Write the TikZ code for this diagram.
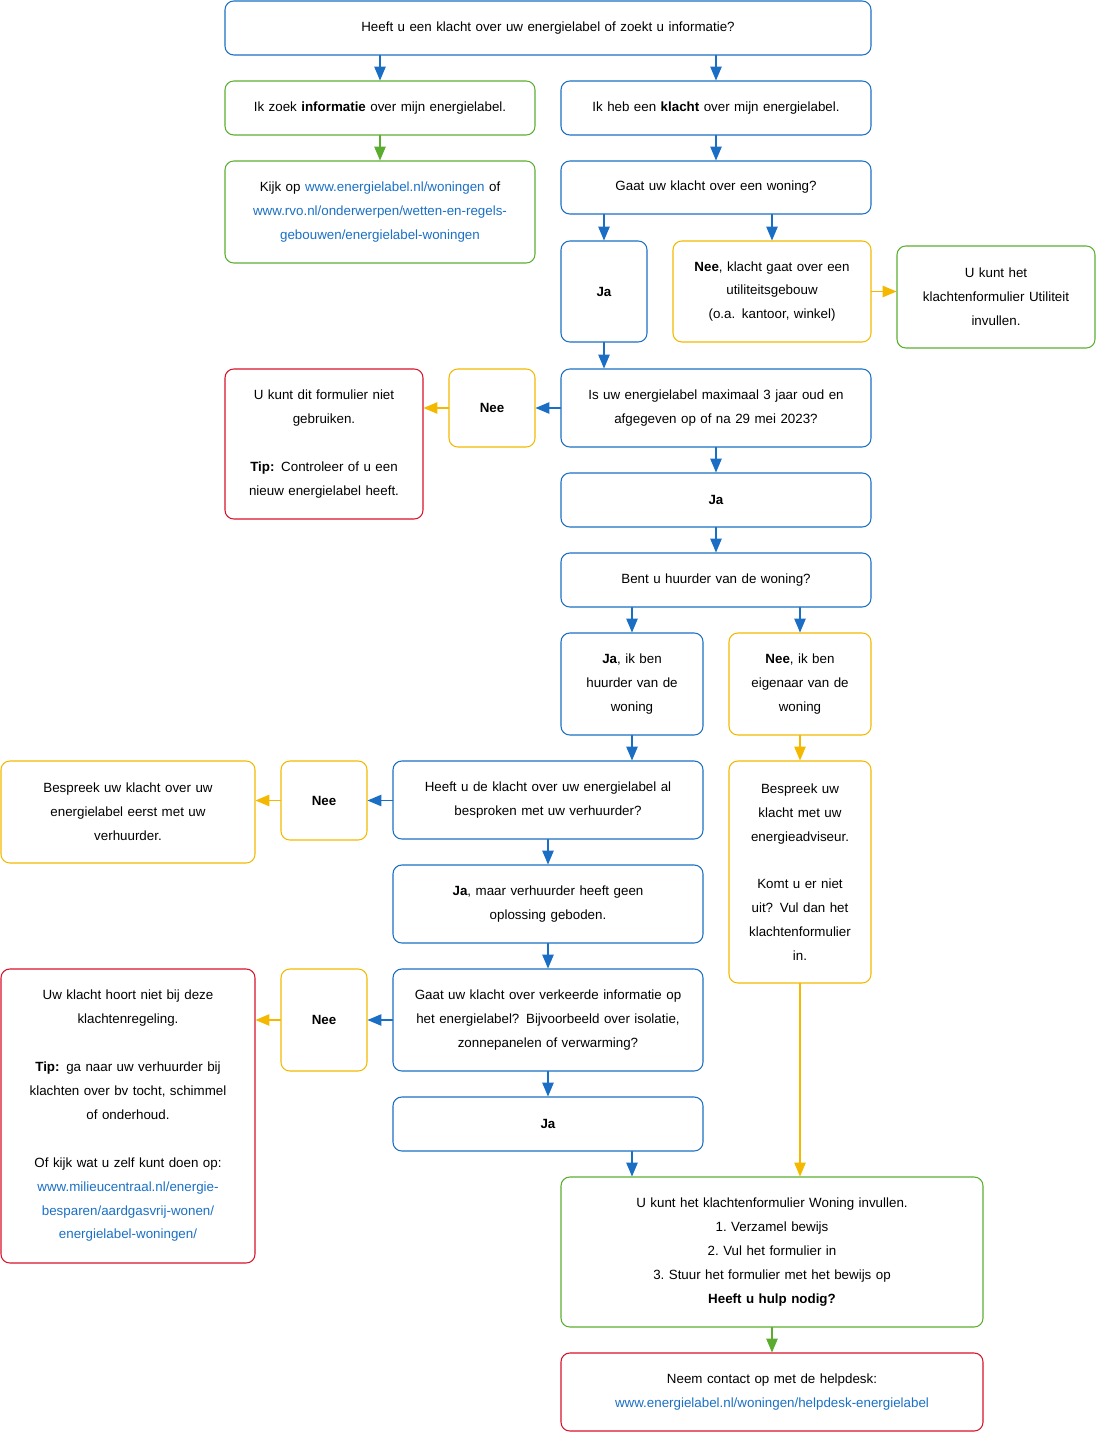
\documentclass[tikz,border=0pt]{standalone}
\usepackage{fontspec}
\setmainfont{Liberation Sans}
\usetikzlibrary{arrows}
\definecolor{cblue}{HTML}{1A6FC4}
\definecolor{cgreen}{HTML}{5AAD2F}
\definecolor{cyellow}{HTML}{F5B800}
\definecolor{cred}{HTML}{D9112A}
\newcommand{\lnk}[1]{\textcolor{cblue}{#1}}
% box from pixel corners (x1,y1) to (x2,y2)
\newcommand{\bx}[7]{\node[box, draw=#2, minimum width={(#5-#3)*0.02cm}, minimum height={(#6-#4)*0.02cm}, text width={(#5-#3-16)*0.02cm}] (#1) at ({(#3+#5)/2},{(#4+#6)/2}) {#7};}
\begin{document}
\begin{tikzpicture}[line cap=round,line join=round,>=triangle 45,x=0.02cm,y=-0.02cm,
  box/.style={rounded corners=5pt, line width=0.6pt, align=center, inner sep=0pt,
    font=\fontsize{7.6}{13.6}\selectfont},
  arr/.style={->, line width=0.8pt}]
\useasboundingbox (0,0) rectangle (1096,1432);
\bx{q1}{cblue}{225}{1}{871}{55}{Heeft u een klacht over uw energielabel of zoekt u informatie?}
\bx{info}{cgreen}{225}{81}{535}{135}{Ik zoek \textbf{informatie} over mijn energielabel.}
\bx{klacht}{cblue}{561}{81}{871}{135}{Ik heb een \textbf{klacht} over mijn energielabel.}
\bx{kijk}{cgreen}{225}{161}{535}{263}{Kijk op \lnk{www.energielabel.nl/woningen} of\\ \lnk{www.rvo.nl/onderwerpen/wetten-en-regels-}\\ \lnk{gebouwen/energielabel-woningen}}
\bx{woning}{cblue}{561}{161}{871}{214}{Gaat uw klacht over een woning?}
\bx{ja1}{cblue}{561}{241}{647}{342}{\textbf{Ja}}
\bx{nee1}{cyellow}{673}{241}{871}{342}{\textbf{Nee}, klacht gaat over een\\ utiliteitsgebouw\\ (o.a. kantoor, winkel)}
\bx{util}{cgreen}{897}{246}{1095}{348}{U kunt het\\ klachtenformulier Utiliteit\\ invullen.}
\bx{max3}{cblue}{561}{369}{871}{447}{Is uw energielabel maximaal 3 jaar oud en\\ afgegeven op of na 29 mei 2023?}
\bx{nee2}{cyellow}{449}{369}{535}{447}{\textbf{Nee}}
\bx{niet}{cred}{225}{369}{423}{519}{U kunt dit formulier niet\\ gebruiken.\\[13.6pt] \textbf{Tip:} Controleer of u een\\ nieuw energielabel heeft.}
\bx{ja2}{cblue}{561}{473}{871}{527}{\textbf{Ja}}
\bx{huurder}{cblue}{561}{553}{871}{607}{Bent u huurder van de woning?}
\bx{jahuur}{cblue}{561}{633}{703}{735}{\textbf{Ja}, ik ben\\ huurder van de\\ woning}
\bx{neeeig}{cyellow}{729}{633}{871}{735}{\textbf{Nee}, ik ben\\ eigenaar van de\\ woning}
\bx{besproken}{cblue}{393}{761}{703}{839}{Heeft u de klacht over uw energielabel al\\ besproken met uw verhuurder?}
\bx{nee3}{cyellow}{281}{761}{367}{840}{\textbf{Nee}}
\bx{bespreek}{cyellow}{1}{761}{255}{863}{Bespreek uw klacht over uw\\ energielabel eerst met uw\\ verhuurder.}
\bx{adviseur}{cyellow}{729}{761}{871}{983}{Bespreek uw\\ klacht met uw\\ energieadviseur.\\[13.6pt] Komt u er niet\\ uit? Vul dan het\\ klachtenformulier\\ in.}
\bx{jamaar}{cblue}{393}{865}{703}{943}{\textbf{Ja}, maar verhuurder heeft geen\\ oplossing geboden.}
\bx{verkeerd}{cblue}{393}{969}{703}{1071}{Gaat uw klacht over verkeerde informatie op\\ het energielabel? Bijvoorbeeld over isolatie,\\ zonnepanelen of verwarming?}
\bx{nee4}{cyellow}{281}{969}{367}{1071}{\textbf{Nee}}
\bx{hoort}{cred}{1}{969}{255}{1263}{Uw klacht hoort niet bij deze\\ klachtenregeling.\\[13.6pt] \textbf{Tip:} ga naar uw verhuurder bij\\ klachten over bv tocht, schimmel\\ of onderhoud.\\[13.6pt] Of kijk wat u zelf kunt doen op:\\ \lnk{www.milieucentraal.nl/energie-}\\ \lnk{besparen/aardgasvrij-wonen/}\\ \lnk{energielabel-woningen/}}
\bx{ja3}{cblue}{393}{1097}{703}{1151}{\textbf{Ja}}
\bx{form}{cgreen}{561}{1177}{983}{1327}{U kunt het klachtenformulier Woning invullen.\\ 1.\ Verzamel bewijs\\ 2.\ Vul het formulier in\\ 3.\ Stuur het formulier met het bewijs op\\ \textbf{Heeft u hulp nodig?}}
\bx{help}{cred}{561}{1353}{983}{1431}{Neem contact op met de helpdesk:\\ \lnk{www.energielabel.nl/woningen/helpdesk-energielabel}}
% connectors
\draw[arr, cblue] (q1.south -| info) -- (info);
\draw[arr, cblue] (q1.south -| klacht) -- (klacht);
\draw[arr, cgreen] (info) -- (kijk);
\draw[arr, cblue] (klacht) -- (woning);
\draw[arr, cblue] (woning.south -| ja1) -- (ja1);
\draw[arr, cblue] (woning.south -| nee1) -- (nee1);
\draw[arr, cyellow] (nee1) -- (nee1 -| util.west);
\draw[arr, cblue] (ja1) -- (ja1 |- max3.north);
\draw[arr, cblue] (max3) -- (nee2);
\draw[arr, cyellow] (nee2) -- (nee2 -| niet.east);
\draw[arr, cblue] (max3) -- (ja2);
\draw[arr, cblue] (ja2) -- (huurder);
\draw[arr, cblue] (huurder.south -| jahuur) -- (jahuur);
\draw[arr, cblue] (huurder.south -| neeeig) -- (neeeig);
\draw[arr, cblue] (jahuur) -- (jahuur |- besproken.north);
\draw[arr, cyellow] (neeeig) -- (adviseur);
\draw[arr, cblue] (besproken.west |- nee3) -- (nee3);
\draw[arr, cyellow] (nee3) -- (nee3 -| bespreek.east);
\draw[arr, cblue] (besproken) -- (jamaar);
\draw[arr, cblue] (jamaar) -- (verkeerd);
\draw[arr, cblue] (verkeerd) -- (nee4);
\draw[arr, cyellow] (nee4) -- (nee4 -| hoort.east);
\draw[arr, cblue] (verkeerd) -- (ja3);
\draw[arr, cblue] (ja3.south -| jahuur) -- (form.north -| jahuur);
\draw[arr, cyellow] (adviseur) -- (adviseur |- form.north);
\draw[arr, cgreen] (form) -- (help);
\end{tikzpicture}
\end{document}
